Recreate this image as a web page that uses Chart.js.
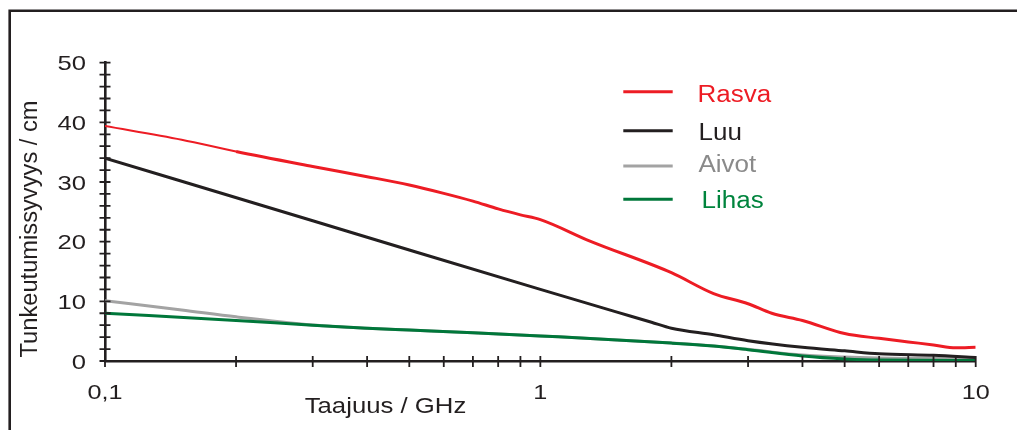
<!DOCTYPE html>
<html lang="fi">
<head>
<meta charset="utf-8">
<title>Tunkeutumissyvyys</title>
<script src="https://cdn.jsdelivr.net/npm/chart.js@4.4.1/dist/chart.umd.min.js"></script>
<style>
  html, body { margin: 0; padding: 0; background: #ffffff; }
  canvas { display: block; }
</style>
</head>
<body>
<canvas id="chart" width="1017" height="430"></canvas>
<script>
// Penetration depth (cm) of different tissues versus frequency (GHz)
const seriesNames = ['Rasva', 'Luu', 'Aivot', 'Lihas'];

const rasvaFreq  = [0.1, 0.15, 0.2, 0.3, 0.4, 0.5, 0.6, 0.7, 0.8, 0.9, 1.0, 1.3, 2.0, 2.5, 3.0, 3.4, 4.0, 5.0, 6.0, 7.0, 8.0, 9.0, 10];
const rasvaDepth = [39.4, 37.1, 35.1, 32.6, 30.9, 29.5, 28.1, 26.8, 25.5, 24.5, 23.7, 20.1, 14.8, 11.3, 9.6, 8.0, 6.8, 4.6, 3.8, 3.2, 2.7, 2.2, 2.3];

const luuFreq  = [0.1, 0.3, 0.5, 1.0, 1.5, 1.8, 2.0, 2.5, 3.0, 4.0, 5.0, 6.0, 8.0, 10];
const luuDepth = [34.0, 23.5, 18.6, 12.0, 8.2, 6.5, 5.5, 4.4, 3.4, 2.3, 1.7, 1.2, 0.95, 0.6];

const aivotFreq  = [0.1, 0.15, 0.2, 0.3, 0.4, 0.5, 0.7, 1.0, 2.0, 2.5, 3.0, 4.0, 5.0, 6.0, 8.0, 10];
const aivotDepth = [10.1, 8.55, 7.4, 6.05, 5.5, 5.2, 4.75, 4.2, 3.0, 2.5, 1.95, 1.0, 0.65, 0.5, 0.4, 0.4];

const lihasFreq  = [0.1, 0.2, 0.3, 0.4, 0.5, 0.7, 1.0, 2.0, 2.5, 3.0, 4.0, 5.0, 6.0, 10];
const lihasDepth = [8.0, 6.8, 6.0, 5.5, 5.2, 4.75, 4.2, 3.0, 2.5, 1.9, 0.85, 0.35, 0.15, 0.1];

// Axis ticks and labels
const xTickValues  = [0.1, 0.2, 0.3, 0.4, 0.5, 0.6, 0.7, 0.8, 0.9, 1, 2, 3, 4, 5, 6, 7, 8, 9, 10];
const xLabelValues = [0.1, 1, 10];
const xLabelTexts  = ['0,1', '1', '10'];
const yTickValues  = [0, 2, 4, 6, 8, 10, 12, 14, 16, 18, 20, 22, 24, 26, 28, 30, 32, 34, 36, 38, 40, 42, 44, 46, 48, 50];
const yLabelValues = [0, 10, 20, 30, 40, 50];
const xTitle = 'Taajuus / GHz';
const yTitle = 'Tunkeutumissyvyys / cm';

const INK = '#231f20';
const FONT = '"Liberation Sans", Arial, Helvetica, sans-serif';
const lineColors = ['#ed1c24', '#231f20', '#a3a3a3', '#00773a'];
const textColors = ['#ed1c24', '#231f20', '#8a8a8a', '#00843d'];

function toPoints(xs, ys) {
  return xs.map((v, i) => ({ x: v, y: ys[i] }));
}

function drawText(ctx, str, x, y, o) {
  ctx.save();
  ctx.translate(x, y);
  if (o.rotate) ctx.rotate(o.rotate);
  ctx.scale(o.sx || 1, 1);
  ctx.font = o.size + 'px ' + FONT;
  ctx.fillStyle = o.color || INK;
  ctx.textAlign = o.align || 'left';
  ctx.textBaseline = 'alphabetic';
  ctx.fillText(str, 0, 0);
  ctx.restore();
}

// Frame, crossing tick marks, tick labels, axis titles and legend
const decorPlugin = {
  id: 'decor',
  afterDraw(chart) {
    const { ctx, chartArea: a, scales: { x, y } } = chart;
    ctx.save();

    ctx.strokeStyle = INK;
    ctx.lineWidth = 2.6;
    ctx.beginPath();
    ctx.moveTo(9.7, 430);
    ctx.lineTo(9.7, 10.7);
    ctx.lineTo(1017, 10.7);
    ctx.stroke();

    ctx.lineWidth = 1.8;
    ctx.beginPath();
    y.ticks.forEach(t => {
      const py = y.getPixelForValue(t.value);
      ctx.moveTo(a.left - 5.5, py);
      ctx.lineTo(a.left + 5.5, py);
    });
    x.ticks.forEach(t => {
      const px = x.getPixelForValue(t.value);
      ctx.moveTo(px, a.bottom - 5);
      ctx.lineTo(px, a.bottom + 6);
    });
    ctx.stroke();

    yLabelValues.forEach(v => {
      drawText(ctx, String(v), a.left - 19, y.getPixelForValue(v) + 7.5, { size: 21, sx: 1.22, align: 'right' });
    });
    xLabelValues.forEach((v, i) => {
      drawText(ctx, xLabelTexts[i], x.getPixelForValue(v), 399, { size: 21, sx: 1.2, align: 'center' });
    });

    drawText(ctx, xTitle, 385.5, 412.7, { size: 22, sx: 1.17, align: 'center' });
    drawText(ctx, yTitle, 37.3, 229, { size: 23, sx: 1.03, align: 'center', rotate: -Math.PI / 2 });

    const rows = [
      { line: 91.7, base: 101.7, text: 697.5 },
      { line: 130.7, base: 140, text: 698.5 },
      { line: 166, base: 171.7, text: 698.5 },
      { line: 199.3, base: 208.3, text: 701.5 }
    ];
    chart.data.datasets.forEach((ds, i) => {
      const r = rows[i];
      ctx.strokeStyle = ds.borderColor;
      ctx.lineWidth = 3;
      ctx.beginPath();
      ctx.moveTo(623.3, r.line);
      ctx.lineTo(672.7, r.line);
      ctx.stroke();
      drawText(ctx, ds.label, r.text, r.base, { size: 23, sx: 1.13, color: textColors[i] });
    });

    ctx.restore();
  }
};

const seriesData = [
  toPoints(rasvaFreq, rasvaDepth),
  toPoints(luuFreq, luuDepth),
  toPoints(aivotFreq, aivotDepth),
  toPoints(lihasFreq, lihasDepth)
];
const drawOrder = [0, 1, 3, 2];

new Chart(document.getElementById('chart'), {
  type: 'line',
  data: {
    datasets: seriesNames.map((name, i) => ({
      label: name,
      data: seriesData[i],
      borderColor: lineColors[i],
      backgroundColor: lineColors[i],
      borderWidth: 3,
      pointRadius: 0,
      fill: false,
      cubicInterpolationMode: 'monotone',
      order: drawOrder[i],
      segment: i === 0 ? { borderWidth: c => (c.p0.parsed.x < 0.19 ? 2 : 3) } : undefined
    }))
  },
  options: {
    responsive: false,
    animation: false,
    layout: { padding: { left: 0, top: 62.7, right: 41.3, bottom: 0 } },
    plugins: { legend: { display: false }, tooltip: { enabled: false } },
    scales: {
      x: {
        type: 'logarithmic',
        min: 0.1,
        max: 10,
        grid: { display: false },
        border: { display: true, color: INK, width: 2.6 },
        ticks: { display: false },
        afterBuildTicks: s => { s.ticks = xTickValues.map(v => ({ value: v })); },
        afterFit: s => { s.height = 69; }
      },
      y: {
        type: 'linear',
        min: 0,
        max: 50,
        grid: { display: false },
        border: { display: true, color: INK, width: 2.6 },
        ticks: { display: false },
        afterBuildTicks: s => { s.ticks = yTickValues.map(v => ({ value: v })); },
        afterFit: s => { s.width = 105; }
      }
    }
  },
  plugins: [decorPlugin]
});
</script>
</body>
</html>
